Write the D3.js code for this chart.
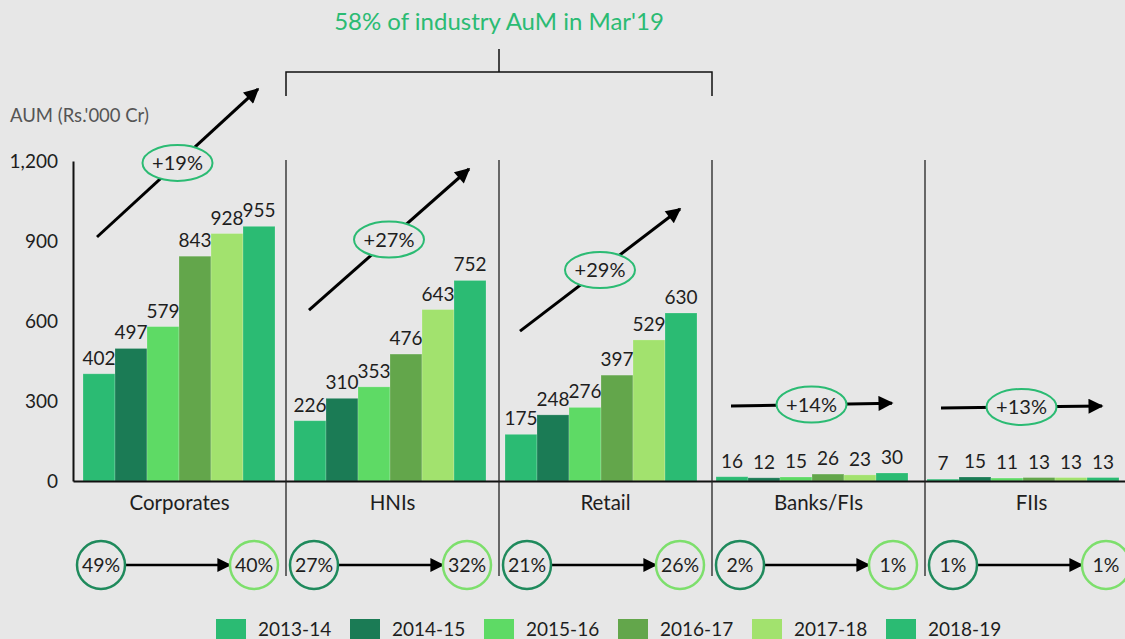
<!DOCTYPE html>
<html>
<head>
<meta charset="utf-8">
<script src="https://cdn.jsdelivr.net/npm/d3@7"></script>
<style>
  html, body { margin: 0; padding: 0; background: #e7e7e7; }
  svg { display: block; font-family: Lato, 'Open Sans', sans-serif; }
</style>
</head>
<body>
<svg id="chart"></svg>
<script>
(function () {
  // Data
  var CATEGORIES = ['Corporates', 'HNIs', 'Retail', 'Banks/FIs', 'FIIs']
  var YEARS = ['2013-14', '2014-15', '2015-16', '2016-17', '2017-18', '2018-19']
  var corporates = [402, 497, 579, 843, 928, 955]
  var hnis = [226, 310, 353, 476, 643, 752]
  var retail = [175, 248, 276, 397, 529, 630]
  var banks = [16, 12, 15, 26, 23, 30]
  var fiis = [7, 15, 11, 13, 13, 13]
  var cagr = ['+19%', '+27%', '+29%', '+14%', '+13%']
  var shareFrom = ['49%', '27%', '21%', '2%', '1%']
  var shareTo = ['40%', '32%', '26%', '1%', '1%']
  var Y_TICKS = [0, 300, 600, 900, 1200]
  var TITLE = "58% of industry AuM in Mar'19"
  var Y_TITLE = "AUM (Rs.'000 Cr)"

  // Styles
  var WIDTH = 1125
  var HEIGHT = 639
  var BG = '#e7e7e7'
  var TEXT = '#1e1e1e'
  var ACCENT = '#2bbb73'
  var COLORS = ['#2bbb73', '#1b7b55', '#5eda65', '#63a64b', '#a2e26e', '#2bbb73']
  var FROM_RING = '#1f8a5c'
  var TO_RING = '#7ddf6c'

  // trend arrows: x offset inside the panel, y in data units
  var TRENDS = [
    { from: [24, 915], to: [185, 1470] },
    { from: [23, 641], to: [183, 1170] },
    { from: [21, 562], to: [181, 1020] },
    { from: [19, 281], to: [180, 292] },
    { from: [16, 274], to: [177, 281] }
  ]

  var rows = [corporates, hnis, retail, banks, fiis].map(function (values, i) {
    return { name: CATEGORIES[i], values: values, cagr: cagr[i], from: shareFrom[i], to: shareTo[i], trend: TRENDS[i] }
  })

  var svg = d3.select('#chart')
    .attr('width', WIDTH)
    .attr('height', HEIGHT)
  svg.append('rect').attr('width', WIDTH).attr('height', HEIGHT).attr('fill', BG)

  var defs = svg.append('defs')
  function addMarker(id, w, h) {
    defs.append('marker')
      .attr('id', id)
      .attr('viewBox', '0 0 10 10')
      .attr('refX', 9)
      .attr('refY', 5)
      .attr('markerUnits', 'userSpaceOnUse')
      .attr('markerWidth', w)
      .attr('markerHeight', h)
      .attr('orient', 'auto')
      .append('path')
      .attr('d', 'M0,0L10,5L0,10z')
      .attr('fill', '#000')
  }
  addMarker('head', 18, 15)
  addMarker('head-small', 15, 14)

  // Scales
  var y = d3.scaleLinear().domain([0, 1200]).range([481, 161])
  var panel = d3.scaleBand().domain(CATEGORIES).range([73, 1138])
  var group = d3.scaleBand().domain(CATEGORIES).range([83, 1138])
  var inner = d3.scaleBand().domain(YEARS).range([0, 192])

  // Bars
  var groups = svg.append('g').selectAll('g')
    .data(rows)
    .enter().append('g')
    .attr('transform', function (d) { return 'translate(' + group(d.name) + ',0)' })

  groups.selectAll('rect')
    .data(function (d) { return d.values })
    .enter().append('rect')
    .attr('x', function (d, i) { return inner(YEARS[i]) })
    .attr('y', function (d) { return y(d) })
    .attr('width', inner.bandwidth())
    .attr('height', function (d) { return y(0) - y(d) })
    .attr('fill', function (d, i) { return COLORS[i] })
    .attr('stroke', 'rgba(255,255,255,0.25)')
    .attr('stroke-width', 0.8)

  groups.selectAll('text')
    .data(function (d) { return d.values })
    .enter().append('text')
    .attr('x', function (d, i) { return inner(YEARS[i]) + inner.bandwidth() / 2 })
    .attr('y', function (d) { return y(d) - 9 })
    .attr('text-anchor', 'middle')
    .attr('font-size', 19)
    .attr('fill', TEXT)
    .text(function (d) { return d })

  // Axes
  var yAxis = svg.append('g')
    .attr('transform', 'translate(73,0)')
    .call(d3.axisLeft(y).tickValues(Y_TICKS).tickSize(0).tickSizeOuter(0).tickPadding(15).tickFormat(d3.format(',')))
  var xAxis = svg.append('g')
    .attr('transform', 'translate(0,481)')
    .call(d3.axisBottom(panel).tickSize(0).tickSizeOuter(0).tickPadding(14))
  ;[yAxis, xAxis].forEach(function (a) {
    a.attr('font-family', null).attr('font-size', null)
    a.select('.domain').attr('stroke', '#111').attr('stroke-width', 2)
    a.selectAll('text').attr('font-size', 19).attr('fill', TEXT)
  })
  yAxis.selectAll('text').attr('dy', '0.35em')
  xAxis.selectAll('text').attr('font-size', 20.5)

  // Panel separators
  svg.append('g').selectAll('line')
    .data(CATEGORIES.slice(1))
    .enter().append('line')
    .attr('x1', function (d) { return panel(d) })
    .attr('x2', function (d) { return panel(d) })
    .attr('y1', 160)
    .attr('y2', 576)
    .attr('stroke', '#222')
    .attr('stroke-width', 1.3)

  // Bracket over HNIs..Retail
  var bx0 = panel('HNIs')
  var bx1 = panel('Banks/FIs')
  var bmid = panel('Retail')
  svg.append('path')
    .attr('d', 'M' + bx0 + ',96V72H' + bx1 + 'V96M' + bmid + ',72V49')
    .attr('fill', 'none')
    .attr('stroke', '#111')
    .attr('stroke-width', 1.5)

  svg.append('text')
    .attr('x', bmid)
    .attr('y', 30)
    .attr('text-anchor', 'middle')
    .attr('font-size', 24)
    .attr('fill', ACCENT)
    .text(TITLE)

  svg.append('text')
    .attr('x', 10)
    .attr('y', 122)
    .attr('font-size', 18.5)
    .attr('fill', '#555')
    .text(Y_TITLE)

  // Growth arrows with CAGR
  var trend = svg.append('g').selectAll('g')
    .data(rows)
    .enter().append('g')

  function trendPt(d, k) {
    return [panel(d.name) + d.trend[k][0], y(d.trend[k][1])]
  }
  trend.append('line')
    .attr('x1', function (d) { return trendPt(d, 'from')[0] })
    .attr('y1', function (d) { return trendPt(d, 'from')[1] })
    .attr('x2', function (d) { return trendPt(d, 'to')[0] })
    .attr('y2', function (d) { return trendPt(d, 'to')[1] })
    .attr('stroke', '#000')
    .attr('stroke-width', 3)
    .attr('marker-end', 'url(#head)')
  trend.append('ellipse')
    .attr('cx', function (d) { return (trendPt(d, 'from')[0] + trendPt(d, 'to')[0]) / 2 })
    .attr('cy', function (d) { return (trendPt(d, 'from')[1] + trendPt(d, 'to')[1]) / 2 })
    .attr('rx', 35)
    .attr('ry', 18)
    .attr('fill', BG)
    .attr('stroke', ACCENT)
    .attr('stroke-width', 2)
  trend.append('text')
    .attr('x', function (d) { return (trendPt(d, 'from')[0] + trendPt(d, 'to')[0]) / 2 })
    .attr('y', function (d) { return (trendPt(d, 'from')[1] + trendPt(d, 'to')[1]) / 2 })
    .attr('dy', '0.36em')
    .attr('text-anchor', 'middle')
    .attr('font-size', 20)
    .attr('fill', TEXT)
    .text(function (d) { return d.cagr })

  // Share of AUM, then vs now
  var R = 24
  var CY = 565
  var share = svg.append('g').selectAll('g')
    .data(rows)
    .enter().append('g')
    .attr('transform', function (d) { return 'translate(' + panel(d.name) + ',' + CY + ')' })

  share.append('line')
    .attr('x1', 28 + R)
    .attr('x2', 181 - R)
    .attr('stroke', '#000')
    .attr('stroke-width', 2.5)
    .attr('marker-end', 'url(#head-small)')
  share.append('circle')
    .attr('cx', 28)
    .attr('r', R)
    .attr('fill', BG)
    .attr('stroke', FROM_RING)
    .attr('stroke-width', 2.5)
  share.append('circle')
    .attr('cx', 181)
    .attr('r', R)
    .attr('fill', BG)
    .attr('stroke', TO_RING)
    .attr('stroke-width', 2.5)
  share.append('text')
    .attr('x', 28)
    .attr('dy', '0.36em')
    .attr('text-anchor', 'middle')
    .attr('font-size', 19.5)
    .attr('fill', TEXT)
    .text(function (d) { return d.from })
  share.append('text')
    .attr('x', 181)
    .attr('dy', '0.36em')
    .attr('text-anchor', 'middle')
    .attr('font-size', 19.5)
    .attr('fill', TEXT)
    .text(function (d) { return d.to })

  // Legend
  var legend = svg.append('g').selectAll('g')
    .data(YEARS)
    .enter().append('g')
    .attr('transform', function (d, i) { return 'translate(' + (216 + i * 134) + ',619)' })
  legend.append('rect')
    .attr('width', 30)
    .attr('height', 20)
    .attr('fill', function (d, i) { return COLORS[i] })
  legend.append('text')
    .attr('x', 42)
    .attr('y', 17)
    .attr('font-size', 19)
    .attr('fill', TEXT)
    .text(function (d) { return d })
})()
</script>
</body>
</html>
